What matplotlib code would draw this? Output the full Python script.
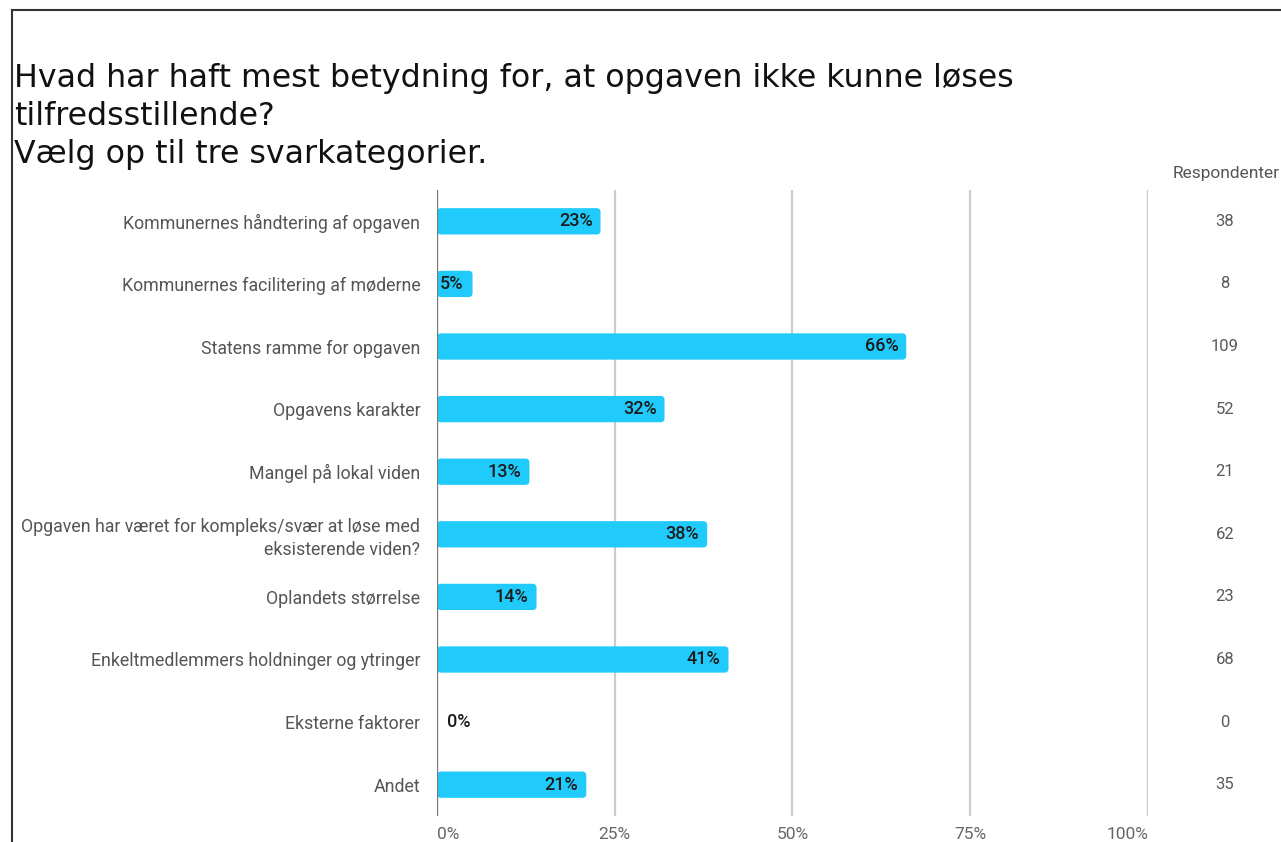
import matplotlib
matplotlib.use("Agg")
import matplotlib.pyplot as plt
from matplotlib.patches import FancyBboxPatch
from matplotlib.lines import Line2D

# ── data ─────────────────────────────────────────────────────────────
categories = [
    "Kommunernes håndtering af opgaven",
    "Kommunernes facilitering af møderne",
    "Statens ramme for opgaven",
    "Opgavens karakter",
    "Mangel på lokal viden",
    "Opgaven har været for kompleks/svær at løse med\neksisterende viden?",
    "Oplandets størrelse",
    "Enkeltmedlemmers holdninger og ytringer",
    "Eksterne faktorer",
    "Andet",
]
percent = [23, 5, 66, 32, 13, 38, 14, 41, 0, 21]
respondents = [38, 8, 109, 52, 21, 62, 23, 68, 0, 35]
xticks = [0, 25, 50, 75, 100]
xtick_labels = ["0%", "25%", "50%", "75%", "100%"]
title_lines = [
    "Hvad har haft mest betydning for, at opgaven ikke kunne løses",
    "tilfredsstillende?",
    "Vælg op til tre svarkategorier.",
]

BAR_COLOR = "#20cbfb"
W, H = 1281, 842


def main():
    fig = plt.figure(figsize=(W / 100, H / 100), dpi=100)
    fig.patch.set_facecolor("white")

    # axes box in pixel terms: x 437..1148, y 190..816 (from top)
    ax = fig.add_axes([437 / W, 1 - 816 / H, (1148 - 437) / W, (816 - 190) / H])

    ypos = list(range(len(categories)))
    bars = ax.barh(ypos, percent, height=0.42, color=BAR_COLOR, zorder=3)

    # swap plain rectangles for ones with rounded ends
    px_x = (1148 - 437) / 100.0          # pixels per percent
    px_y = (816 - 190) / len(categories)  # pixels per row
    for b in bars:
        if b.get_width() <= 0:
            b.remove()
            continue
        r = 4.0 / px_x
        patch = FancyBboxPatch(
            (b.get_x(), b.get_y()), b.get_width(), b.get_height(),
            boxstyle=f"round,pad=0,rounding_size={r}",
            mutation_aspect=px_x / px_y,
            facecolor=BAR_COLOR, edgecolor="none", zorder=3,
        )
        b.remove()
        ax.add_patch(patch)

    # value labels
    for y, v in zip(ypos, percent):
        if v >= 10:
            ax.text(v - 1.1, y, f"{v}%", ha="right", va="center",
                    fontsize=13, family="Roboto", weight="medium",
                    color="#1c1c1c", zorder=4)
        else:
            x = 1.4 if v == 0 else 0.4
            ax.text(x, y, f"{v}%", ha="left", va="center",
                    fontsize=13, family="Roboto", weight="medium",
                    color="#1c1c1c", zorder=4)

    # respondent counts column
    tr = ax.get_yaxis_transform()
    ax.text(1.11, -0.5 - 9 / px_y, "Respondenter", transform=tr,
            ha="center", va="bottom", fontsize=12.5, family="Roboto",
            color="#555555", clip_on=False)
    for y, n in zip(ypos, respondents):
        ax.text(1.108, y, str(n), transform=tr, ha="center", va="center",
                fontsize=12, family="Roboto", color="#5a5a5a", clip_on=False)

    ax.set_xlim(0, 100)
    ax.set_ylim(len(categories) - 0.5, -0.5)
    ax.set_yticks(ypos)
    ax.set_yticklabels(categories, family="Roboto", fontsize=12.8,
                       color="#555555", linespacing=1.3)
    ax.set_xticks(xticks)
    xt = ax.set_xticklabels(xtick_labels, family="Roboto", fontsize=12.5,
                            color="#666666")
    # end labels sit inside the plot span, like the source chart
    xt[0].set_horizontalalignment("left")
    xt[-1].set_horizontalalignment("right")
    ax.tick_params(axis="y", length=0, pad=12)
    ax.tick_params(axis="x", length=0, pad=8)

    ax.grid(axis="x", color="#cccccc", linewidth=1.6, zorder=0)
    for s in ax.spines.values():
        s.set_visible(False)
    ax.axvline(0, color="#777777", linewidth=1.6, zorder=5)

    # title, one line at a time
    baselines = [87, 125, 163]
    for line, yb in zip(title_lines, baselines):
        fig.text(14 / W, 1 - yb / H, line, ha="left", va="baseline",
                 fontsize=22.8, family="DejaVu Sans", color="#111111")

    # frame of the screenshot (left and top edges only are visible)
    fig.add_artist(Line2D([12 / W, 12 / W], [0, 1 - 10 / H],
                          color="#333333", linewidth=1.5))
    fig.add_artist(Line2D([12 / W, 1], [1 - 10 / H, 1 - 10 / H],
                          color="#333333", linewidth=1.5))

    fig.savefig("out.png", dpi=100)
    plt.close(fig)


if __name__ == "__main__":
    main()
